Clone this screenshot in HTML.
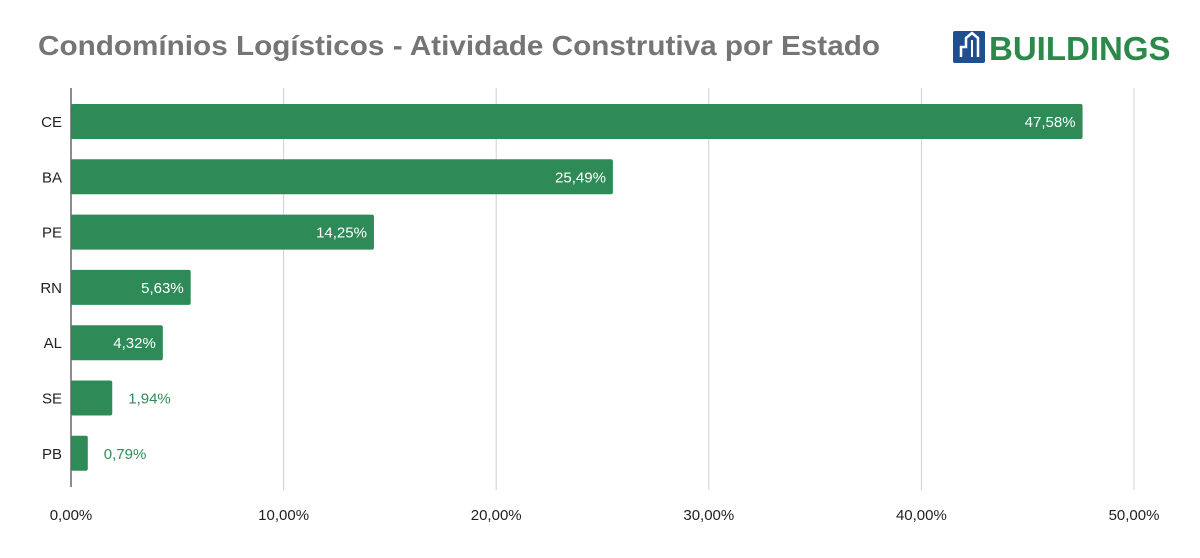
<!DOCTYPE html>
<html><head><meta charset="utf-8"><style>
body{margin:0;background:#fff;width:1200px;height:553px;overflow:hidden;font-family:"Liberation Sans",Arial,sans-serif}
</style></head><body>
<svg width="1200" height="553">
<text x="38" y="55" font-size="28" font-weight="bold" fill="#757575" textLength="842" lengthAdjust="spacingAndGlyphs">Condomínios Logísticos - Atividade Construtiva por Estado</text>
<g>
<rect x="953" y="31" width="32" height="32" rx="2" fill="#1f4f8f"/>
<path d="M961 57 L961 47 L966 47 L966 38 L972 33 L978 38 L978 57" fill="none" stroke="#fff" stroke-width="2.5"/>
<path d="M972 40 L972 57" stroke="#fff" stroke-width="2"/>
<text x="989" y="60" font-size="33" font-weight="bold" fill="#2b8a4a">BUILDINGS</text>
</g>
<g id="grid"></g><g id="bars"></g><g id="axis"></g>
</svg>
<script>
const categories=["CE","BA","PE","RN","AL","SE","PB"];
const values=[47.58,25.49,14.25,5.63,4.32,1.94,0.79];
const ticks=[0,10,20,30,40,50];
const ns="http://www.w3.org/2000/svg";
const x0=71,pxPer=(1134-71)/50;
const X=v=>x0+v*pxPer;
const Y=i=>104+i*55.3;
const fmt=v=>v.toFixed(2).replace('.',',')+'%';
function mk(t,a,p){const e=document.createElementNS(ns,t);for(const k in a)e.setAttribute(k,a[k]);p.appendChild(e);return e;}
const grid=document.getElementById('grid'),bars=document.getElementById('bars'),axis=document.getElementById('axis');
ticks.forEach(t=>{
 if(t>0){const l=mk('line',{x1:X(t),x2:X(t),y1:88,y2:490,stroke:'#d0d0d0','stroke-width':1},grid);
 
 }
 const tx=mk('text',{x:X(t),y:520,'text-anchor':'middle','font-size':15,fill:'#222'},axis);tx.textContent=fmt(t);
 
 
});
const al=mk('line',{x1:x0,x2:x0,y1:88,y2:487,stroke:'#666','stroke-width':1.5},axis);


categories.forEach((c,i)=>{
 const y=Y(i),w=X(values[i])-x0;
 const r=mk('rect',{x:x0,y:y,width:w,height:35,rx:2,fill:'#2e8b57'},bars);
 
 
 const lb=mk('text',{x:62,y:y+23,'text-anchor':'end','font-size':15,fill:'#222'},axis);lb.textContent=c;
 
 
 const inside=w>60;
 const v=mk('text',{x:inside?X(values[i])-7:X(values[i])+16,y:y+23,'text-anchor':inside?'end':'start','font-size':15,fill:inside?'#fff':'#2e8b57'},bars);
 v.textContent=fmt(values[i]);
 
 
});
</script>
</body></html>
